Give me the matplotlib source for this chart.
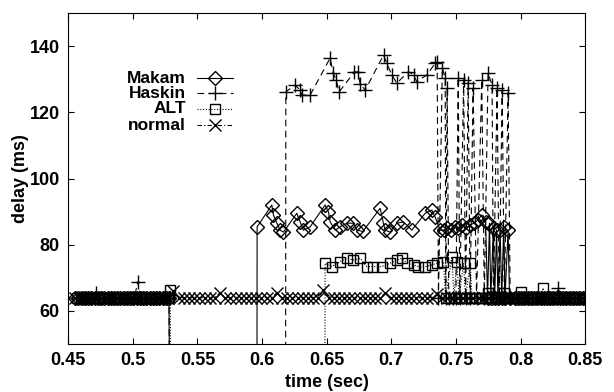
import matplotlib.pyplot as plt

plt.rcParams['font.family'] = ['Liberation Sans', 'DejaVu Sans']
plt.rcParams['font.weight'] = 'bold'
plt.rcParams['axes.labelweight'] = 'bold'
plt.rcParams['font.size'] = 13

# ---------------- data (time in sec, delay in ms; 0 = packet lost) ----------------
# steady state before the link failure (send clocks of the three flows)
early_t = [0.4555, 0.4580, 0.4605, 0.4630, 0.4655, 0.4680, 0.4705, 0.4730, 0.4755, 0.4780,
           0.4805, 0.4830, 0.4855, 0.4880, 0.4905, 0.4930, 0.4955, 0.4980, 0.5005, 0.5030,
           0.5055, 0.5080, 0.5105, 0.5130, 0.5155, 0.5180, 0.5205, 0.5230, 0.5255, 0.5280]
early_t2 = [0.4563, 0.4588, 0.4613, 0.4638, 0.4663, 0.4688, 0.4713, 0.4738, 0.4763, 0.4788,
            0.4813, 0.4838, 0.4863, 0.4888, 0.4913, 0.4938, 0.4963, 0.4988, 0.5013, 0.5038,
            0.5063, 0.5088, 0.5113, 0.5138, 0.5163, 0.5188, 0.5213, 0.5238, 0.5263, 0.5280]
early_t3 = [0.4572, 0.4597, 0.4622, 0.4647, 0.4672, 0.4697, 0.4722, 0.4747, 0.4772, 0.4797,
            0.4822, 0.4847, 0.4872, 0.4897, 0.4922, 0.4947, 0.4972, 0.4997, 0.5022, 0.5047,
            0.5072, 0.5097, 0.5122, 0.5147, 0.5172, 0.5197, 0.5222, 0.5247, 0.5272, 0.5280]
early_d = [64, 64, 64, 64, 64, 64, 64, 64, 64, 64,
           64, 64, 64, 64, 64, 64, 64, 64, 64, 64,
           64, 64, 64, 64, 64, 64, 64, 64, 64, 64]

# after recovery
late_t = [0.7955, 0.7980, 0.8005, 0.8030, 0.8055, 0.8080, 0.8105, 0.8130, 0.8155, 0.8180,
          0.8205, 0.8230, 0.8255, 0.8280, 0.8305, 0.8330, 0.8355, 0.8380, 0.8405, 0.8430,
          0.8455, 0.8480, 0.8505]
late_t2 = [0.7967, 0.7992, 0.8017, 0.8042, 0.8067, 0.8092, 0.8117, 0.8142, 0.8167, 0.8192,
           0.8217, 0.8242, 0.8267, 0.8292, 0.8317, 0.8342, 0.8367, 0.8392, 0.8417, 0.8442,
           0.8467, 0.8492, 0.8505]
late_d = [64, 64, 64, 64, 64, 64, 64, 64, 64, 64,
          64, 64, 64, 64, 64, 64, 64, 64, 64, 64,
          64, 64, 64]

makam_mid_t = [0.5290, 0.5960, 0.5962, 0.6076, 0.6088, 0.6115, 0.6140, 0.6166, 0.6269, 0.6295,
               0.6320, 0.6372, 0.6488, 0.6514, 0.6527, 0.6566, 0.6604, 0.6656, 0.6707, 0.6734,
               0.6780, 0.6914, 0.6939, 0.6953, 0.6991, 0.7043, 0.7094, 0.7159, 0.7262, 0.7314,
               0.7339, 0.7378, 0.7405, 0.7430, 0.7460, 0.7490, 0.7520, 0.7550, 0.7580,
               0.7610, 0.7640, 0.7670, 0.7701, 0.7730, 0.7745, 0.7760, 0.7770, 0.7790, 0.7800,
               0.7815, 0.7825, 0.7842, 0.7855, 0.7870, 0.7880, 0.7904, 0.7915]
makam_mid_d = [0, 0, 85.4, 92.0, 89.0, 86.5, 84.4, 83.8, 89.5, 86.9,
               84.4, 85.4, 92.0, 89.9, 86.9, 84.4, 85.4, 86.5, 86.5, 84.4,
               84.0, 91.0, 86.5, 84.4, 83.8, 86.5, 86.9, 84.4, 89.5, 90.5,
               88.4, 84.4, 84.4, 85.0, 84.5, 85.5, 85.0, 86.0, 85.0,
               86.0, 86.5, 87.5, 89.0, 87.0, 64, 86.5, 64, 85.0, 64,
               84.5, 64, 84.4, 64, 85.5, 64, 84.4, 64]

haskin_early_d = [64, 64, 64, 64, 64, 64, 65.5, 64, 64, 64,
                  64, 64, 64, 64, 64, 64, 64, 64, 64, 68.8,
                  64, 64, 64, 64, 64, 64, 64, 64, 64, 64]
haskin_mid_t = [0.5290, 0.6182, 0.6184, 0.6256, 0.6295, 0.6310, 0.6372, 0.6527, 0.6550, 0.6575,
                0.6595, 0.6715, 0.6740, 0.6760, 0.6798, 0.6940, 0.6966, 0.7004, 0.7043, 0.7133,
                0.7172, 0.7198, 0.7275, 0.7340, 0.7355, 0.7365, 0.7395, 0.7417, 0.7422, 0.7432,
                0.7445, 0.7475, 0.7500, 0.7518, 0.7530, 0.7560, 0.7575, 0.7595, 0.7610, 0.7633,
                0.7660, 0.7700, 0.7720, 0.7749, 0.7780, 0.7790, 0.7819, 0.7835, 0.7858, 0.7875,
                0.7904, 0.7920]
haskin_mid_d = [0, 0, 126.2, 128.2, 126.7, 125.2, 125.2, 136.4, 131.9, 129.8,
                126.1, 132.2, 132.2, 128.5, 126.7, 137.3, 134.8, 131.3, 128.8, 132.3,
                131.3, 129.2, 131.3, 134.8, 135.2, 64, 133.4, 130.4, 64, 127.3,
                64, 64, 64, 130.4, 64, 129.8, 64, 129.0, 64, 127.3,
                64, 129.8, 64, 131.9, 128.2, 64, 127.3, 64, 126.7, 64,
                125.8, 64]
haskin_late_d = [64, 64, 64, 64, 64, 64, 64, 64, 64, 64,
                 64, 64, 64, 66.9, 64, 64, 64, 64, 64, 64,
                 64, 64, 64]

alt_mid_t = [0.5290, 0.5295, 0.6486, 0.6488, 0.6540, 0.6604, 0.6656, 0.6707, 0.6759, 0.6811,
             0.6862, 0.6927, 0.6991, 0.7043, 0.7082, 0.7121, 0.7172, 0.7210, 0.7262, 0.7314,
             0.7353, 0.7404, 0.7420, 0.7469, 0.7485, 0.7507, 0.7525, 0.7559, 0.7575, 0.7610,
             0.7625]
alt_mid_d = [66.3, 0, 0, 74.4, 73.4, 74.9, 75.9, 75.4, 75.9, 73.4,
             73.4, 73.4, 74.4, 75.4, 75.9, 74.4, 73.9, 73.4, 73.4, 73.9,
             74.4, 74.9, 64, 76.4, 64, 74.9, 64, 74.4, 64, 74.4,
             64]
alt_late_t = [0.7650, 0.7675, 0.7700, 0.7725, 0.7750, 0.7775, 0.7800, 0.7825, 0.7850, 0.7875,
              0.7900, 0.7925, 0.7950, 0.7975, 0.8000, 0.8025, 0.8050, 0.8075, 0.8100, 0.8125,
              0.8150, 0.8175, 0.8200, 0.8225, 0.8250, 0.8275, 0.8300, 0.8325, 0.8350, 0.8375,
              0.8400, 0.8425, 0.8450, 0.8475, 0.8500]
alt_late_d = [64, 64, 64, 64, 65.5, 64, 64, 64, 64, 65.5,
              64, 64, 64, 64, 65.8, 64, 64, 64, 64, 64,
              64, 66.9, 64, 64, 64, 64, 64, 64, 64, 64,
              64, 64, 64, 64, 64]

normal_t = [0.4555, 0.4595, 0.4635, 0.4675, 0.4715, 0.4755, 0.4795, 0.4835, 0.4875, 0.4915,
            0.4955, 0.4995, 0.5035, 0.5075, 0.5115, 0.5155, 0.5195, 0.5235, 0.5275, 0.5315,
            0.5355, 0.5395, 0.5435, 0.5475, 0.5515, 0.5555, 0.5595, 0.5635, 0.5675, 0.5715,
            0.5755, 0.5795, 0.5835, 0.5875, 0.5915, 0.5955, 0.5995, 0.6035, 0.6075, 0.6115,
            0.6155, 0.6195, 0.6235, 0.6275, 0.6315, 0.6355, 0.6395, 0.6435, 0.6475, 0.6515,
            0.6555, 0.6595, 0.6635, 0.6675, 0.6715, 0.6755, 0.6795, 0.6835, 0.6875, 0.6915,
            0.6955, 0.6995, 0.7035, 0.7075, 0.7115, 0.7155, 0.7195, 0.7235, 0.7275, 0.7315,
            0.7355, 0.7395, 0.7435, 0.7475, 0.7515, 0.7555, 0.7595, 0.7635, 0.7675, 0.7715,
            0.7755, 0.7795, 0.7835, 0.7875, 0.7915, 0.7955, 0.7995, 0.8035, 0.8075, 0.8115,
            0.8155, 0.8195, 0.8235, 0.8275, 0.8315, 0.8355, 0.8395, 0.8435, 0.8475, 0.8505]
normal_d = [64, 64, 64, 64, 64, 64, 64, 64, 64, 64,
            64, 64, 64, 64, 64, 64, 64, 64, 64, 66,
            64, 64, 64, 64, 64, 64, 64, 64, 65.5, 64,
            64, 64, 64, 64, 64, 64, 64, 64, 64, 65.5,
            64, 64, 64, 64, 64, 64, 64, 64, 66.3, 64,
            64, 64, 64, 64, 64, 64, 64, 64, 64, 64,
            65.5, 64, 64, 64, 64, 64, 64, 64, 64, 64,
            65, 64, 64, 64, 64, 64, 64, 64, 64, 64,
            64, 64, 64, 64, 64, 64, 64, 64, 64, 64,
            64, 64, 64, 64, 64, 64, 64, 64, 64, 64]

x_ticks = [0.45, 0.5, 0.55, 0.6, 0.65, 0.7, 0.75, 0.8, 0.85]
x_labels = ['0.45', '0.5', '0.55', '0.6', '0.65', '0.7', '0.75', '0.8', '0.85']
y_ticks = [60, 80, 100, 120, 140]
y_labels = ['60', '80', '100', '120', '140']

# name, times, delays, line style, marker, marker size
series = [
    ("Makam", early_t + makam_mid_t + late_t, early_d + makam_mid_d + late_d, '-', 'D', 7.5),
    ("Haskin", early_t2 + haskin_mid_t + late_t2, haskin_early_d + haskin_mid_d + haskin_late_d,
     (0, (6, 4)), '+', 9.5),
    ("ALT", early_t3 + alt_mid_t + alt_late_t, early_d + alt_mid_d + alt_late_d, (0, (1, 1.5)), 's', 7),
    ("normal", normal_t, normal_d, (0, (4, 2, 1, 2)), 'x', 8),
]

fig = plt.figure(figsize=(6.14, 3.92), dpi=100)
ax = fig.add_axes([0.111, 0.1224, 0.842, 0.8444])

for name, t, d, ls, mk, ms in series:
    ax.plot(t, d, color='black', linestyle=ls, linewidth=0.8, marker=mk, markersize=ms,
            markerfacecolor='none', markeredgewidth=1.0)

# gnuplot style key: right aligned text, then the sample
leg_y = [0.8036, 0.7583, 0.7115, 0.6616]
for (name, t, d, ls, mk, ms), y in zip(series, leg_y):
    ax.text(0.228, y, name, transform=ax.transAxes, ha='right', va='center', fontsize=12.5)
    ax.plot([0.2495, 0.284, 0.319], [y, y, y], transform=ax.transAxes, color='black',
            linestyle=ls, linewidth=0.8, marker=mk, markersize=ms, markevery=[1],
            markerfacecolor='none', markeredgewidth=1.0, clip_on=False)

ax.set_xlim(0.45, 0.85)
ax.set_ylim(50, 150)
ax.set_xticks(x_ticks, x_labels, fontweight='bold', fontsize=13)
ax.set_yticks(y_ticks, y_labels, fontweight='bold', fontsize=13)
ax.tick_params(direction='in', top=True, right=True, length=4, width=0.8, pad=6)
for s in ax.spines.values():
    s.set_linewidth(0.8)

ax.set_xlabel("time (sec)")
ax.set_ylabel("delay (ms)")
ax.xaxis.set_label_coords(0.5, -0.09)
ax.yaxis.set_label_coords(-0.075, 0.5)

fig.savefig("out.png", dpi=100)
